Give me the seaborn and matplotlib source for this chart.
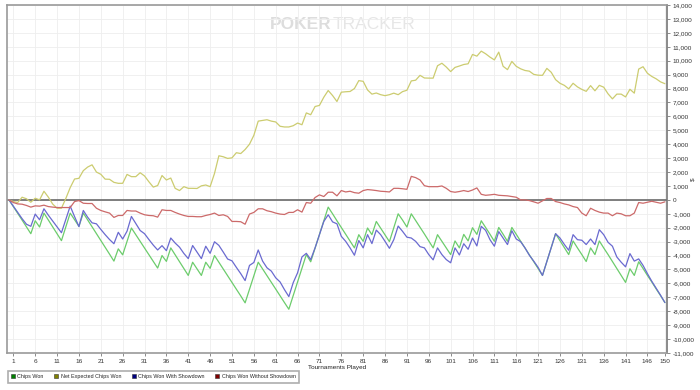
import numpy as np
import pandas as pd
import matplotlib
matplotlib.use('Agg')
import matplotlib.pyplot as plt
import seaborn as sns
from matplotlib.ticker import FuncFormatter
from matplotlib.lines import Line2D

# cumulative chips after each tournament (index 0 = start)
chips_won = [
    0, -480, -970, -1450, -1940, -2430, -1500, -1950, -950, -1450,
    -1940, -2430, -2930, -1940, -950, -1430, -1900, -950, -1440, -1930,
    -2420, -2910, -3400, -3900, -4400, -3520, -3950, -2980, -2020, -2500,
    -2980, -3460, -3940, -4420, -4900, -4000, -4420, -3450, -3950, -4440,
    -4930, -5430, -4480, -4950, -5430, -4480, -4920, -4000, -4480, -4970,
    -5450, -5940, -6420, -6900, -7400, -6430, -5450, -4480, -4960, -5450,
    -5930, -6410, -6900, -7380, -7860, -6880, -5900, -4920, -3930, -4450,
    -3470, -2490, -1500, -520, -1000, -1500, -1980, -2470, -2960, -3450,
    -2500, -2980, -2020, -2500, -1550, -2030, -2500, -3000, -2000, -1000,
    -1450, -1950, -1000, -1480, -1960, -2450, -2950, -3450, -2500, -2980,
    -3460, -3930, -2950, -3450, -2480, -2950, -2000, -2480, -1500, -1980,
    -2470, -2980, -1980, -2470, -2980, -1980, -2470, -2960, -3450, -3950,
    -4440, -4930, -5430, -4430, -3430, -2430, -2930, -3430, -3930, -2950,
    -3450, -3930, -4430, -3450, -3930, -2950, -3450, -3930, -4430, -4930,
    -5430, -5930, -4950, -5430, -4450, -4930, -5430, -5900, -6400, -6880, -7380]

net_expected = [
    0, -120, -190, 190, 80, -170, 120, 0, 620, 200,
    -300, -600, -600, 100, 880, 1500, 1550, 2100, 2360, 2520,
    2000, 1840, 1490, 1480, 1260, 1190, 1190, 1830, 1670, 1670,
    1950, 1720, 1300, 920, 1030, 1750, 1430, 1570, 830, 670,
    950, 830, 830, 820, 1010, 1070, 950, 1900, 3170, 3100,
    2980, 3020, 3390, 3330, 3620, 4000, 4640, 5660, 5710, 5760,
    5660, 5600, 5290, 5240, 5240, 5330, 5520, 5400, 6250, 6120,
    6710, 6790, 7380, 7860, 7500, 7070, 7740, 7770, 7790, 8000,
    8570, 8520, 7900, 7600, 7680, 7560, 7490, 7560, 7670, 7560,
    7780, 7880, 8550, 8600, 8950, 8760, 8750, 8750, 9640, 9820,
    9550, 9220, 9520, 9620, 9730, 9780, 10450, 10330, 10690, 10500,
    10260, 10060, 10620, 9600, 9360, 9950, 9600, 9420, 9300, 9250,
    9020, 8960, 8950, 9450, 9170, 8640, 8380, 8230, 7980, 8380,
    8120, 7940, 7800, 8210, 7840, 8230, 8100, 7620, 7260, 7600,
    7600, 7400, 7950, 7670, 9400, 9570, 9100, 8870, 8700, 8480, 8350]

with_showdown = [
    0, -450, -900, -1350, -1750, -1900, -1020, -1430, -640, -1100,
    -1520, -1950, -2360, -1400, -450, -1200, -1920, -760, -1250, -1650,
    -1720, -2120, -2500, -2850, -3150, -2330, -2810, -2250, -1190, -1700,
    -2200, -2430, -2850, -3250, -3600, -3290, -3650, -2740, -3100, -3400,
    -3850, -4220, -3280, -3750, -4220, -3330, -3840, -3010, -3270, -3750,
    -4250, -4380, -4850, -5300, -5800, -4710, -4500, -3600, -4400, -4880,
    -5120, -5600, -5900, -6450, -6950, -5950, -5240, -4100, -3840, -4290,
    -3450, -2500, -1550, -1070, -1580, -1720, -2620, -2980, -3450, -3980,
    -2920, -3450, -2500, -3140, -2170, -2500, -2980, -3480, -2860, -1880,
    -2260, -2680, -2740, -2980, -3360, -3450, -3930, -4310, -3450, -3930,
    -4290, -4520, -3450, -3960, -3150, -3550, -2740, -3310, -1900, -2190,
    -2860, -3330, -2280, -2740, -3210, -2220, -2810, -3000, -3450, -3980,
    -4400, -4850, -5430, -4430, -3430, -2430, -2740, -3200, -3620, -2500,
    -2860, -2900, -3210, -2810, -3210, -2140, -2500, -3050, -3330, -4100,
    -4480, -4810, -3860, -4400, -4240, -4710, -5300, -5850, -6350, -6850, -7380]

without_showdown = [
    0, -190, -290, -310, -400, -520, -430, -450, -380, -480,
    -520, -550, -550, -550, -550, -120, -50, -240, -260, -260,
    -600, -760, -860, -950, -1260, -1120, -1120, -760, -800, -800,
    -950, -1070, -1120, -1140, -1240, -710, -760, -760, -900, -1020,
    -1120, -1190, -1190, -1210, -1210, -1120, -1050, -950, -1120, -1070,
    -1190, -1550, -1550, -1570, -1750, -1020, -900, -640, -640, -780,
    -850, -950, -1020, -1050, -900, -900, -710, -880, -190, -240,
    170, 360, 240, 550, 550, 290, 670, 570, 620, 520,
    480, 670, 740, 710, 670, 620, 600, 570, 830, 830,
    800, 760, 1690, 1600, 1430, 1020, 950, 950, 950, 1000,
    830, 600, 550, 600, 670, 600, 710, 860, 400, 330,
    360, 400, 330, 310, 290, 240, 190, 0, 0, -50,
    -140, -240, -70, 100, 100, -120, -190, -290, -360, -480,
    -550, -950, -1140, -600, -760, -880, -950, -950, -1140, -950,
    -1000, -1140, -1140, -950, -190, -240, -170, -100, -170, -240, -140]

series_names = ['Chips Won', 'Net Expected Chips Won',
                'Chips Won With Showdown', 'Chips Won Without Showdown']
line_colors = ['#6ccc6c', '#cccc70', '#6a6ad0', '#cc6a6a']
legend_colors = ['#008000', '#808000', '#000080', '#800000']
x_ticks = list(range(1, 150, 5)) + [150]
y_ticks = list(range(-11000, 14001, 1000))

tournaments = np.arange(len(chips_won))
frames = []
for name, vals in zip(series_names, [chips_won, net_expected, with_showdown, without_showdown]):
    frames.append(pd.DataFrame({'Tournament': tournaments, 'Chips': vals, 'Series': name}))
long_df = pd.concat(frames, ignore_index=True)

sns.set_style('white')
plt.rcParams['font.family'] = ['Liberation Sans', 'DejaVu Sans']

fig = plt.figure(figsize=(7, 3.9), dpi=100)
ax = fig.add_axes([0.01, 0.095, 0.943, 0.892])

ax.axhline(0, color='#6a6a6a', lw=1.2, zorder=1)
sns.lineplot(data=long_df, x='Tournament', y='Chips', hue='Series',
             hue_order=series_names, palette=dict(zip(series_names, line_colors)),
             linewidth=0.9, legend=False, ax=ax, zorder=2)

ax.set_xlim(-0.45, 150.5)
ax.set_ylim(-11000, 14000)
ax.set_xticks(x_ticks)
ax.set_yticks(y_ticks)
ax.yaxis.set_major_formatter(FuncFormatter(lambda v, p: f'{int(v):,}'))
ax.yaxis.tick_right()
ax.grid(True, color='#eeeeee', lw=0.6)
ax.set_axisbelow(True)
ax.tick_params(axis='both', length=2.5, width=0.6, color='#777777', pad=1.5,
               labelsize=4.6, labelcolor='#333333')
ax.tick_params(axis='y', right=True, left=False)
ax.tick_params(axis='x', bottom=True)

ax.set_xlabel('Tournaments Played', fontsize=4.6, color='#222222', labelpad=0.8)
ax.set_ylabel('')
fig.text(0.99, 0.541, '$', rotation=90, fontsize=4.5, color='#333333',
         ha='center', va='center')

for side, sp in ax.spines.items():
    sp.set_visible(True)
    sp.set_color('#9a9a9a')
    sp.set_linewidth(1.2)
ax.spines['right'].set_color('#777777')

# faint watermark
ax.text(0.491, 0.943, 'POKER', transform=ax.transAxes, ha='right', va='center',
        fontsize=12.5, fontweight='bold', color='#dddddd', zorder=0)
ax.text(0.494, 0.943, 'TRACKER', transform=ax.transAxes, ha='left', va='center',
        fontsize=12.5, color='#e6e6e6', zorder=0)

handles = [Line2D([], [], marker='s', linestyle='', markersize=3.4,
                  markerfacecolor=c, markeredgecolor='#333333', markeredgewidth=0.4)
           for c in legend_colors]
leg = fig.legend(handles, series_names, loc='lower left', bbox_to_anchor=(0.007, 0.012),
                 ncol=4, fontsize=3.9, frameon=True, fancybox=False, edgecolor='#9a9a9a',
                 handlelength=0.7, handletextpad=0.45, columnspacing=2.0, borderpad=0.6)
leg.get_frame().set_linewidth(1.2)

fig.savefig('out.png', dpi=100, facecolor='white')
